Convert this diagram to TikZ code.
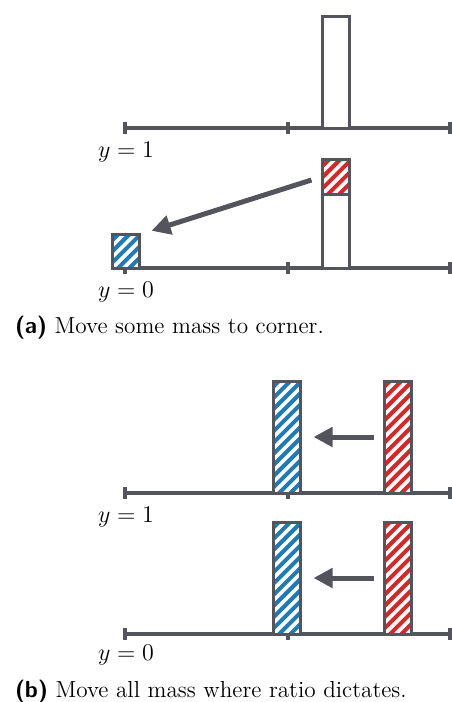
\documentclass[tikz,border=0pt]{standalone}
\usepackage{xcolor}
\usetikzlibrary{arrows.meta,positioning}
\definecolor{axisgray}{HTML}{54545C}
\definecolor{massblue}{HTML}{1F7BB6}
\definecolor{massred}{HTML}{D62728}
\tikzset{
  axisline/.style={line width=2pt,draw=axisgray},
  tickline/.style={line width=1.6pt,draw=axisgray},
  bar/.style={draw=axisgray,line width=1.5pt,fill=white,inner sep=0pt,outer sep=0pt,minimum width=13.5pt,anchor=south},
  hatch/.style={fill=#1,path picture={
    \foreach \k in {-12,...,4}
      \draw[white,line width=1.8pt] ([xshift=\k*5.6pt]path picture bounding box.south west) -- ++(45:90pt);}},
  move/.style={line width=2.5pt,draw=axisgray,-{Triangle[length=9.5pt,width=9.5pt]}},
  ylab/.style={font=\fontsize{12.5}{14}\selectfont},
  capt/.style={anchor=west,font=\fontsize{11.6}{14}\selectfont}
}
\begin{document}
\begin{tikzpicture}[x=0.5pt,y=-0.5pt]
\useasboundingbox (0,0) rectangle (451,702);
% axes with ticks
\foreach \yy/\nm in {128/a1,268/a0,493/b1,634/b0} {
  \draw[axisline] (125,\yy) -- (450,\yy);
  \foreach \xx in {125,288,450} \draw[tickline] (\xx,\yy-6) -- (\xx,\yy+6);
  \coordinate (axis\nm) at (288,\yy);
}
% (a)
\node[bar,minimum height=55.7pt] (tallA) at (336,128) {};
\node[bar,minimum height=37pt] (stemA) at (336,268) {};
\node[bar,hatch=massred,minimum height=17.5pt] (redA) at (stemA.north) {};
\node[bar,hatch=massblue,minimum height=16.7pt] (blueA) at (126,268) {};
\draw[move,shorten <=5.8pt,shorten >=6.3pt] (redA.west) -- (blueA.north east);
\node[ylab] (labA1) at (126,152) {$y=1$};
\node[ylab] (labA0) at (126,292) {$y=0$};
\node[capt] (captA) at (8,328) {\textsf{\bfseries (a)} Move some mass to corner.};
% (b)
\foreach \yy/\nm in {493/1,634/0} {
  \node[bar,hatch=massblue,minimum height=56pt] (blueB\nm) at (287,\yy) {};
  \node[bar,hatch=massred,minimum height=56pt] (redB\nm) at (398,\yy) {};
  \draw[move,shorten <=5.5pt,shorten >=6.5pt] (redB\nm) -- (blueB\nm);
}
\node[ylab] (labB1) at (126,517) {$y=1$};
\node[ylab] (labB0) at (126,655) {$y=0$};
\node[capt] (captB) at (8,692) {\textsf{\bfseries (b)} Move all mass where ratio dictates.};
\end{tikzpicture}
\end{document}
